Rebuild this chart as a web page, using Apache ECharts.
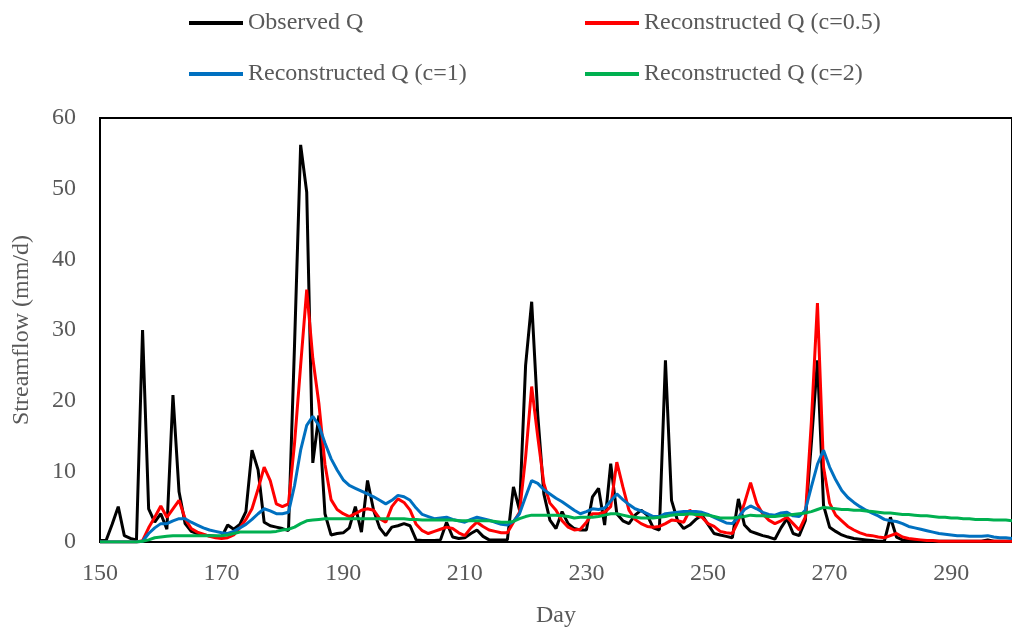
<!DOCTYPE html>
<html>
<head>
<meta charset="utf-8">
<script src="https://cdn.jsdelivr.net/npm/echarts@6/dist/echarts.min.js"></script>
<style>
  html, body { margin: 0; padding: 0; background: #fff; }
  #chart { width: 1012px; height: 636px; }
</style>
</head>
<body>
<div id="chart"></div>
<script>
const firstDay = 150;
const lastDay = 300;
const xTicks = [150, 170, 190, 210, 230, 250, 270, 290];
const yTicks = [0, 10, 20, 30, 40, 50, 60];
const seriesNames = ['Observed Q', 'Reconstructed Q (c=0.5)', 'Reconstructed Q (c=1)', 'Reconstructed Q (c=2)'];

const observedQ = [
  0.2, 0.2, 2.5, 5.0, 0.9, 0.5, 0.3, 30.0, 4.7, 2.8,
  4.0, 1.8, 20.8, 7.1, 2.6, 1.5, 1.2, 1.0, 0.9, 0.8,
  0.7, 2.4, 1.8, 2.5, 4.3, 13.0, 10.2, 2.8, 2.3, 2.1,
  1.9, 1.6, 28.0, 56.2, 49.5, 11.2, 17.9, 4.0, 1.0, 1.2,
  1.3, 2.0, 5.0, 1.4, 8.7, 4.5, 2.0, 0.9, 2.1, 2.3,
  2.6, 2.3, 0.3, 0.2, 0.2, 0.2, 0.3, 2.8, 0.7, 0.5,
  0.6, 1.2, 1.7, 0.8, 0.3, 0.3, 0.3, 0.3, 7.8, 4.5,
  25.0, 34.0, 18.0, 6.8, 3.1, 1.9, 4.3, 2.6, 1.9, 1.7,
  1.7, 6.4, 7.6, 2.4, 11.1, 4.0, 3.0, 2.6, 3.8, 4.5,
  3.8, 2.0, 1.7, 25.7, 5.9, 3.0, 1.9, 2.4, 3.2, 3.8,
  2.5, 1.2, 1.0, 0.8, 0.6, 6.1, 2.4, 1.5, 1.2, 0.9,
  0.7, 0.4, 2.0, 3.3, 1.2, 0.9, 3.0, 14.0, 25.7, 5.2,
  2.1, 1.5, 1.0, 0.7, 0.5, 0.4, 0.3, 0.2, 0.1, 0.1,
  3.5, 0.7, 0.3, 0.2, 0.1, 0.1, 0.1, 0.1, 0.1, 0.1,
  0.1, 0.1, 0.1, 0.1, 0.1, 0.1, 0.3, 0.1, 0.1, 0.1,
  0.1
];

const reconC05 = [
  0, 0, 0, 0, 0, 0, 0, 0.2, 2.0, 3.5,
  5.1, 3.5, 4.7, 5.9, 3.3, 1.9, 1.4, 1.1, 0.8, 0.6,
  0.5, 0.6, 1.0, 2.0, 3.2, 4.7, 7.5, 10.6, 8.7, 5.4,
  5.0, 5.4, 14.0, 25.0, 35.7, 26.0, 19.6, 11.0, 6.0, 4.6,
  4.0, 3.6, 4.0, 4.5, 4.7, 4.5, 3.3, 2.8, 5.0, 6.1,
  5.6, 4.5, 2.5, 1.6, 1.2, 1.5, 1.8, 2.1, 1.9, 1.3,
  0.9, 2.0, 2.8, 2.2, 1.7, 1.5, 1.3, 1.3, 2.8, 4.2,
  12.0, 22.0, 14.9, 8.3, 5.5, 4.5, 3.0, 2.1, 1.7, 1.8,
  2.8, 4.0, 4.0, 4.2, 5.0, 11.3, 7.8, 4.5, 3.2, 2.6,
  2.2, 2.1, 2.2, 2.6, 3.1, 3.0, 2.8, 4.5, 3.8, 3.5,
  2.6, 2.2, 1.5, 1.3, 1.2, 3.0, 5.5, 8.4, 5.5, 4.0,
  3.1, 2.6, 3.0, 3.5, 2.6, 1.7, 3.5, 17.0, 33.8, 10.6,
  5.5, 3.8, 3.0, 2.2, 1.7, 1.3, 1.0, 0.9, 0.7, 0.6,
  0.9, 1.2, 0.7, 0.5, 0.4, 0.3, 0.2, 0.2, 0.1, 0.1,
  0.1, 0.1, 0.1, 0.1, 0.1, 0.1, 0.1, 0.1, 0.1, 0.1,
  0.1
];

const reconC1 = [
  0, 0, 0, 0, 0, 0, 0, 0.1, 1.2, 2.0,
  2.6, 2.6, 3.0, 3.3, 3.3, 2.8, 2.4, 2.0, 1.7, 1.5,
  1.3, 1.2, 1.5, 2.0, 2.5, 3.2, 4.0, 4.7, 4.4, 4.0,
  4.0, 4.2, 8.0, 13.0, 16.5, 17.8, 16.5, 14.0, 11.8, 10.2,
  8.8, 8.0, 7.6, 7.2, 6.8, 6.4, 5.9, 5.4, 5.9, 6.6,
  6.4, 5.9, 4.8, 3.9, 3.6, 3.3, 3.4, 3.5, 3.2, 3.0,
  2.8, 3.2, 3.5, 3.3, 3.1, 2.8, 2.5, 2.4, 2.9, 4.0,
  6.4, 8.7, 8.3, 7.4, 6.8, 6.2, 5.7, 5.1, 4.5, 4.0,
  4.3, 4.7, 4.6, 4.8, 5.8, 6.8, 6.0, 5.3, 4.7, 4.4,
  4.0, 3.6, 3.6, 4.0, 4.1, 4.2, 4.3, 4.3, 4.3, 4.2,
  3.9, 3.5, 3.1, 2.7, 2.6, 3.5, 4.6, 5.1, 4.7, 4.2,
  3.9, 3.8, 4.1, 4.2, 3.7, 3.6, 4.5, 7.8, 11.0, 13.0,
  10.6, 8.8, 7.3, 6.3, 5.6, 5.0, 4.5, 4.1, 3.7, 3.2,
  3.0, 2.9, 2.6, 2.2, 2.0, 1.8, 1.6, 1.4, 1.2, 1.1,
  1.0, 0.9, 0.9, 0.8, 0.8, 0.8, 0.9, 0.7, 0.6, 0.6,
  0.5
];

const reconC2 = [
  0, 0, 0, 0, 0, 0, 0, 0.1, 0.3, 0.6,
  0.7, 0.8, 0.9, 0.9, 0.9, 0.9, 0.9, 0.9, 0.9, 0.9,
  0.9, 1.0, 1.2, 1.4, 1.4, 1.4, 1.4, 1.4, 1.4, 1.5,
  1.7, 1.8, 2.1, 2.6, 3.0, 3.1, 3.2, 3.3, 3.3, 3.3,
  3.3, 3.3, 3.3, 3.3, 3.3, 3.3, 3.3, 3.3, 3.3, 3.3,
  3.3, 3.2, 3.2, 3.1, 3.1, 3.1, 3.1, 3.1, 3.1, 3.0,
  3.0, 3.0, 3.0, 3.0, 3.0, 2.9, 2.8, 2.8, 2.9, 3.3,
  3.6, 3.8, 3.8, 3.8, 3.8, 3.8, 3.7, 3.6, 3.4, 3.5,
  3.5, 3.5, 3.6, 3.8, 4.0, 4.0, 3.8, 3.6, 3.5, 3.4,
  3.4, 3.4, 3.5, 3.6, 3.8, 3.9, 3.9, 4.0, 3.9, 3.9,
  3.8, 3.6, 3.4, 3.4, 3.4, 3.5, 3.6, 3.8, 3.7, 3.7,
  3.6, 3.6, 3.7, 3.8, 3.9, 4.0, 4.1, 4.3, 4.6, 4.9,
  4.8, 4.7, 4.6, 4.6, 4.5, 4.5, 4.4, 4.3, 4.2, 4.1,
  4.1, 4.0, 3.9, 3.9, 3.8, 3.7, 3.7, 3.6, 3.5, 3.5,
  3.4, 3.4, 3.3, 3.3, 3.2, 3.2, 3.2, 3.1, 3.1, 3.1,
  3.0
];

const days = [];
for (let d = firstDay; d <= lastDay; d++) days.push(d);
const pairs = (vals) => days.map((d, i) => [d, vals[i]]);

const colors = ['#000000', '#FF0000', '#0070C0', '#00B050'];
const font = 'Liberation Serif, Times New Roman, serif';
const textColor = '#595959';

const chart = echarts.init(document.getElementById('chart'), null, { renderer: 'canvas' });
const legendText = { fontFamily: font, fontSize: 24, color: textColor };
chart.setOption({
  animation: false,
  backgroundColor: '#ffffff',
  color: colors,
  legend: [
    { data: [seriesNames[0], seriesNames[2]], orient: 'vertical', left: 184, top: 6,
      icon: 'rect', itemWidth: 54, itemHeight: 4, itemGap: 27, textStyle: legendText },
    { data: [seriesNames[1], seriesNames[3]], orient: 'vertical', left: 580, top: 6,
      icon: 'rect', itemWidth: 54, itemHeight: 4, itemGap: 27, textStyle: legendText }
  ],
  grid: { left: 100, right: -9, top: 118, bottom: 94, show: true, borderColor: '#000', borderWidth: 2, containLabel: false },
  xAxis: {
    type: 'value', min: firstDay, max: lastDay, interval: 20,
    name: 'Day', nameLocation: 'middle', nameGap: 62,
    nameTextStyle: { fontFamily: font, fontSize: 24, color: textColor },
    axisLine: { show: true, lineStyle: { color: '#000', width: 2 } },
    axisTick: { show: false },
    splitLine: { show: false },
    axisLabel: {
      margin: 20, fontFamily: font, fontSize: 24, color: textColor,
      showMaxLabel: false,
      formatter: (v) => xTicks.indexOf(v) >= 0 ? String(v) : ''
    }
  },
  yAxis: {
    type: 'value', min: yTicks[0], max: yTicks[yTicks.length - 1], interval: 10,
    name: 'Streamflow (mm/d)', nameLocation: 'middle', nameGap: 66,
    nameTextStyle: { fontFamily: font, fontSize: 24, color: textColor },
    axisLine: { show: true, lineStyle: { color: '#000', width: 2 } },
    axisTick: { show: false },
    splitLine: { show: false },
    axisLabel: { margin: 24, fontFamily: font, fontSize: 24, color: textColor }
  },
  series: [
    { name: seriesNames[0], type: 'line', data: pairs(observedQ), symbol: 'none', lineStyle: { width: 3, color: colors[0] }, itemStyle: { color: colors[0] } },
    { name: seriesNames[1], type: 'line', data: pairs(reconC05), symbol: 'none', lineStyle: { width: 3, color: colors[1] }, itemStyle: { color: colors[1] } },
    { name: seriesNames[2], type: 'line', data: pairs(reconC1), symbol: 'none', lineStyle: { width: 3, color: colors[2] }, itemStyle: { color: colors[2] } },
    { name: seriesNames[3], type: 'line', data: pairs(reconC2), symbol: 'none', lineStyle: { width: 3, color: colors[3] }, itemStyle: { color: colors[3] } }
  ]
});
</script>
</body>
</html>
